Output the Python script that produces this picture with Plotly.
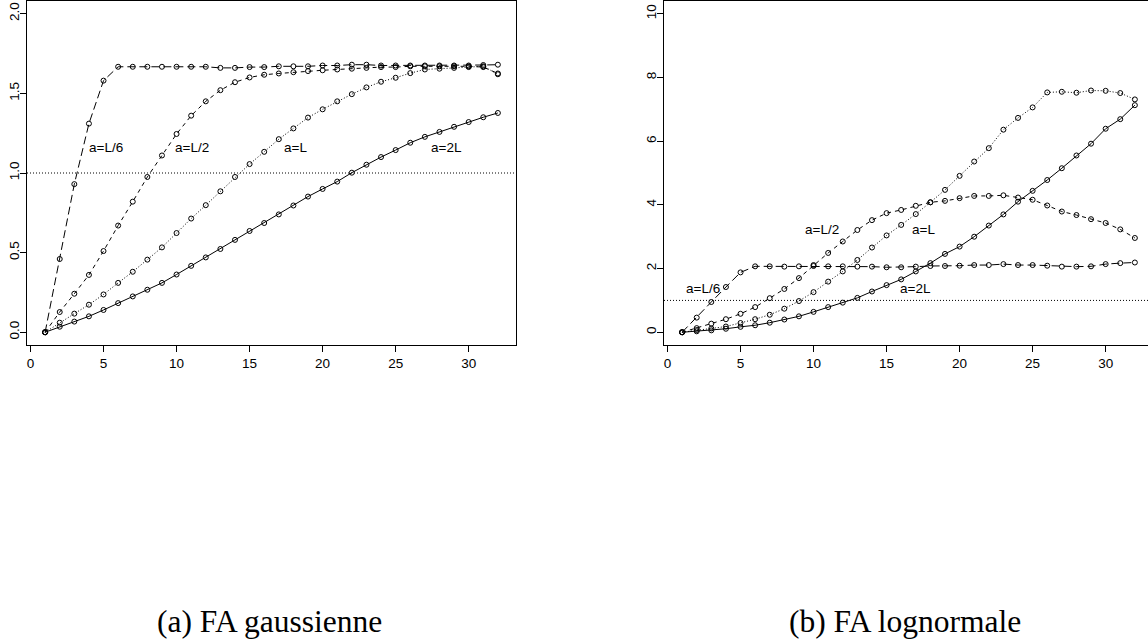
import plotly.graph_objects as go

x_vals = list(range(1, 33))

gauss_L6 = [0, 0.46, 0.93, 1.31, 1.58, 1.667, 1.667, 1.667, 1.667, 1.667, 1.667, 1.667,
            1.66, 1.66, 1.665, 1.665, 1.67, 1.67, 1.67, 1.675, 1.675, 1.68, 1.68, 1.675,
            1.675, 1.675, 1.675, 1.675, 1.675, 1.675, 1.678, 1.68]
gauss_L2 = [0, 0.127, 0.242, 0.36, 0.51, 0.67, 0.82, 0.975, 1.11, 1.245, 1.36, 1.45,
            1.52, 1.57, 1.60, 1.617, 1.625, 1.633, 1.64, 1.645, 1.65, 1.655, 1.66, 1.665,
            1.665, 1.67, 1.67, 1.67, 1.67, 1.67, 1.665, 1.625]
gauss_L = [0, 0.06, 0.117, 0.173, 0.2375, 0.31, 0.38, 0.456, 0.533, 0.623, 0.714, 0.798,
           0.885, 0.975, 1.056, 1.133, 1.2125, 1.28, 1.348, 1.40, 1.45, 1.495, 1.5375, 1.573,
           1.598, 1.627, 1.65, 1.655, 1.66, 1.665, 1.67, 1.62]
gauss_2L = [0, 0.035, 0.067, 0.10, 0.14, 0.183, 0.225, 0.267, 0.31, 0.3625, 0.417, 0.47,
            0.523, 0.58, 0.636, 0.686, 0.74, 0.796, 0.852, 0.90, 0.946, 1.002, 1.052, 1.10,
            1.144, 1.19, 1.227, 1.258, 1.29, 1.32, 1.35, 1.377]

logn_L6 = [0, 0.46, 0.95, 1.42, 1.88, 2.07, 2.07, 2.06, 2.07, 2.08, 2.07, 2.07, 2.06, 2.06,
           2.04, 2.04, 2.06, 2.08, 2.08, 2.09, 2.11, 2.11, 2.14, 2.11, 2.11, 2.09, 2.06, 2.06,
           2.07, 2.14, 2.17, 2.19]
logn_L2 = [0, 0.13, 0.27, 0.41, 0.58, 0.79, 1.07, 1.36, 1.70, 2.11, 2.49, 2.85, 3.21, 3.52,
           3.74, 3.84, 3.97, 4.08, 4.125, 4.21, 4.28, 4.28, 4.30, 4.23, 4.16, 3.98, 3.79, 3.68,
           3.55, 3.43, 3.23, 2.96]
logn_L = [0, 0.07, 0.12, 0.18, 0.29, 0.41, 0.55, 0.74, 0.98, 1.26, 1.59, 1.91, 2.27, 2.66,
          3.04, 3.37, 3.71, 4.08, 4.47, 4.91, 5.36, 5.78, 6.36, 6.73, 7.06, 7.53, 7.55, 7.52,
          7.59, 7.58, 7.51, 7.31]
logn_2L = [0, 0.03, 0.06, 0.11, 0.17, 0.22, 0.30, 0.40, 0.50, 0.64, 0.79, 0.93, 1.08, 1.28,
           1.48, 1.66, 1.91, 2.17, 2.46, 2.69, 3.0, 3.35, 3.70, 4.10, 4.44, 4.78, 5.15, 5.55,
           5.92, 6.39, 6.69, 7.13]

series_labels = ["a=L/6", "a=L/2", "a=L", "a=2L"]
dash_styles = ["8px,4px", "4px,4px", "1px,2px", "solid"]

gauss_label_pos = [(3.9, 1.1625), (9.75, 1.1625), (17.2, 1.1625), (27.3, 1.1625)]
logn_label_pos = [(1.1, 1.37), (9.25, 3.22), (16.6, 3.22), (15.75, 1.37)]

captions = ["(a) FA gaussienne", "(b) FA lognormale"]

fig = go.Figure()

for ys, dash in zip([gauss_L6, gauss_L2, gauss_L, gauss_2L], dash_styles):
    fig.add_trace(go.Scatter(x=x_vals, y=ys, mode="lines+markers", xaxis="x", yaxis="y",
                             line=dict(color="black", width=1, dash=dash),
                             marker=dict(symbol="circle-open", size=5, color="black",
                                         line=dict(width=1, color="black")),
                             showlegend=False))
for ys, dash in zip([logn_L6, logn_L2, logn_L, logn_2L], dash_styles):
    fig.add_trace(go.Scatter(x=x_vals, y=ys, mode="lines+markers", xaxis="x2", yaxis="y2",
                             line=dict(color="black", width=1, dash=dash),
                             marker=dict(symbol="circle-open", size=5, color="black",
                                         line=dict(width=1, color="black")),
                             showlegend=False))

tickfont = dict(family="Liberation Sans, Arial, sans-serif", size=13.5, color="black")
ax_common = dict(showgrid=False, zeroline=False, showline=True, linecolor="black", linewidth=1,
                 mirror=True, ticks="outside", ticklen=6, tickcolor="black", tickwidth=1,
                 tickfont=tickfont)

ydom = [296 / 641, 640 / 641]
fig.update_layout(
    width=1148, height=641,
    margin=dict(l=0, r=0, t=0, b=0),
    paper_bgcolor="white", plot_bgcolor="white",
    xaxis=dict(domain=[27 / 1148, 516 / 1148], range=[-0.24, 33.24],
               tickvals=[0, 5, 10, 15, 20, 25, 30], anchor="y", **ax_common),
    yaxis=dict(domain=ydom, range=[-0.08, 2.08], tickvals=[0, 0.5, 1.0, 1.5, 2.0],
               ticktext=["0.0", "0.5", "1.0", "1.5", "2.0"], tickangle=-90, anchor="x",
               ticklabelstandoff=-4, **ax_common),
    xaxis2=dict(domain=[664 / 1148, 1.0], range=[-0.24, 32.9],
                tickvals=[0, 5, 10, 15, 20, 25, 30], anchor="y2", **ax_common),
    yaxis2=dict(domain=ydom, range=[-0.4, 10.4], tickvals=[0, 2, 4, 6, 8, 10],
                tickangle=-90, anchor="x2", ticklabelstandoff=-4, **ax_common),
)

for xr, yr in [("x", "y"), ("x2", "y2")]:
    fig.add_shape(type="line", xref=xr + " domain", yref=yr, x0=0, x1=1, y0=1, y1=1,
                  line=dict(color="black", width=1, dash="1px,2px"))

labfont = dict(family="Liberation Sans, Arial, sans-serif", size=13.5, color="black")
for txt, (lx, ly) in zip(series_labels, gauss_label_pos):
    fig.add_annotation(x=lx, y=ly, xref="x", yref="y", text=txt, showarrow=False,
                       xanchor="left", yanchor="middle", font=labfont)
for txt, (lx, ly) in zip(series_labels, logn_label_pos):
    fig.add_annotation(x=lx, y=ly, xref="x2", yref="y2", text=txt, showarrow=False,
                       xanchor="left", yanchor="middle", font=labfont)

capfont = dict(family="Liberation Serif, Times New Roman, serif", size=31.5, color="black")
for txt, cx in zip(captions, [269.7 / 1148, 905 / 1148]):
    fig.add_annotation(x=cx, y=1 - 621 / 641, xref="paper", yref="paper", text=txt,
                       showarrow=False, xanchor="center", yanchor="middle", font=capfont)

fig.write_html("out.html", config={"displayModeBar": False},
               post_script="document.body.style.margin='0px';document.body.style.overflow='hidden';")
